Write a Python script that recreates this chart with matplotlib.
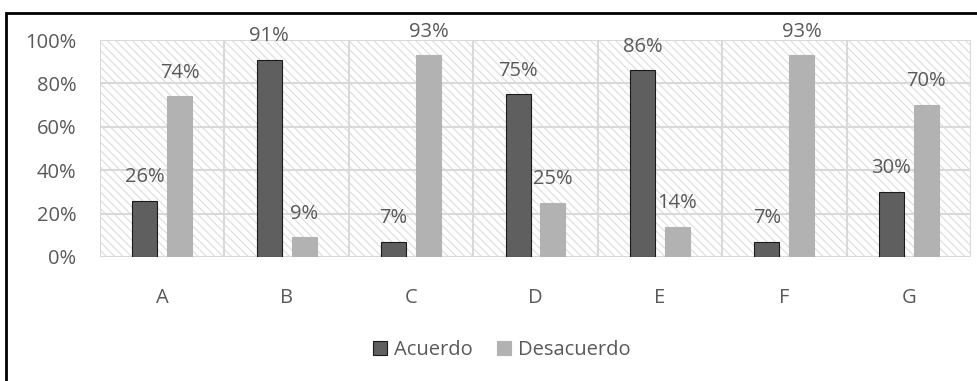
import numpy as np
import matplotlib
matplotlib.use("Agg")
from matplotlib import pyplot as plt
from matplotlib.patches import Rectangle

categories = ["A", "B", "C", "D", "E", "F", "G"]
acuerdo = [26, 91, 7, 75, 86, 7, 30]
desacuerdo = [74, 9, 93, 25, 14, 93, 70]
y_ticks = [0, 20, 40, 60, 80, 100]

plt.rcParams['font.family'] = ['Open Sans', 'DejaVu Sans']
plt.rcParams['hatch.linewidth'] = 0.8
text_color = "#595959"
grid_color = "#d9d9d9"
fs = 14.5

fig = plt.figure(figsize=(9.78, 3.81), dpi=100)
ax = fig.add_axes([100 / 978, 1 - 257 / 381, 871 / 978, 217 / 381])

x = np.arange(len(categories))
width = 0.2
off = 0.14

# hatched background
ax.add_patch(Rectangle((0, 0), 1, 1, transform=ax.transAxes, facecolor="white",
                       edgecolor="#dcdcdc", hatch="\\\\\\\\", linewidth=0, zorder=0))

b1 = ax.bar(x - off, acuerdo, width, color="#5f5f5f", edgecolor="#1a1a1a",
            linewidth=0.8, label="Acuerdo", zorder=3)
b2 = ax.bar(x + off, desacuerdo, width, color="#b2b2b2", edgecolor="#b2b2b2",
            linewidth=0.8, label="Desacuerdo", zorder=3)

for bars, vals in [(b1, acuerdo), (b2, desacuerdo)]:
    for rect, v in zip(bars, vals):
        ax.annotate(str(v) + "%", (rect.get_x() + rect.get_width() / 2, v),
                    xytext=(0, 17), textcoords="offset points", ha="center", va="center",
                    fontsize=fs, color=text_color, zorder=4)

ax.set_xlim(-0.5, len(categories) - 0.5)
ax.set_ylim(0, 100)
ax.set_yticks(y_ticks)
ax.set_yticklabels([str(t) + "%" for t in y_ticks])
ax.set_xticks(x)
ax.set_xticklabels(categories)
ax.tick_params(length=0, labelsize=fs, colors=text_color)
ax.tick_params(axis="y", pad=17)
ax.tick_params(axis="x", pad=22)

for t in y_ticks:
    ax.axhline(t, color=grid_color, linewidth=1.5, zorder=1)
for b in np.arange(len(categories) + 1) - 0.5:
    ax.axvline(b, color=grid_color, linewidth=1.5, zorder=1)
for s in ax.spines.values():
    s.set_visible(False)

fig.legend(loc="center", bbox_to_anchor=(502 / 978, 1 - 350 / 381), ncol=2,
           frameon=False, fontsize=fs, labelcolor=text_color, handlelength=0.7,
           handleheight=0.7, handletextpad=0.35, columnspacing=1.2)

# outer frame (left and top visible)
fig.add_artist(Rectangle((6.5 / 978, -0.1), 1.2, 1.1 - 13.5 / 381, transform=fig.transFigure,
                         fill=False, edgecolor="black", linewidth=2))

fig.savefig("out.png", dpi=100)
